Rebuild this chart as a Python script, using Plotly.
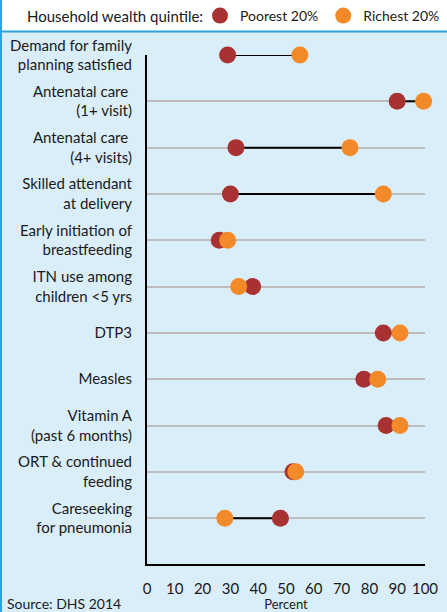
import plotly.graph_objects as go

categories = [
    "Demand for family<br>planning satisfied",
    "Antenatal care <br>(1+ visit)",
    "Antenatal care <br>(4+ visits)",
    "Skilled attendant<br>at delivery",
    "Early initiation of<br>breastfeeding",
    "ITN use among<br>children <5 yrs",
    "DTP3",
    "Measles",
    "Vitamin A<br>(past 6 months)",
    "ORT & continued<br>feeding",
    "Careseeking<br>for pneumonia",
]
poorest = [29, 90, 32, 30, 26, 38, 85, 78, 86, 52.5, 48]
richest = [55, 99.5, 73, 85, 29, 33, 91, 83, 91, 53.5, 28]
xticks = [0, 10, 20, 30, 40, 50, 60, 70, 80, 90, 100]

C_POOR = "#a83232"
C_RICH = "#f28a2a"
BG = "#d9eef9"
BLUE = "#2ea3de"
FONT = "Lato, Open Sans, sans-serif"

idx = list(range(len(categories)))

lx, ly = [], []
for i, (p, r) in enumerate(zip(poorest, richest)):
    lx += [p, r, None]
    ly += [i, i, None]

fig = go.Figure()
fig.add_trace(go.Scatter(x=lx, y=ly, mode="lines", line=dict(color="black", width=2),
                         showlegend=False, hoverinfo="skip", cliponaxis=False))
fig.add_trace(go.Scatter(x=poorest, y=idx, mode="markers", name="Poorest 20%",
                         marker=dict(color=C_POOR, size=17), cliponaxis=False))
fig.add_trace(go.Scatter(x=richest, y=idx, mode="markers", name="Richest 20%",
                         marker=dict(color=C_RICH, size=17), cliponaxis=False))

W, H = 447, 612
L, R, T, B = 147, 22, 55, 48
pw, ph = W - L - R, H - T - B

def px_x(p):
    return (p - L) / pw

def px_y(p):
    return (H - B - p) / ph

fig.update_layout(
    width=W, height=H,
    margin=dict(l=L, r=R, t=T, b=B, autoexpand=False),
    paper_bgcolor=BG, plot_bgcolor=BG,
    font=dict(family=FONT, size=15, color="#1a1a1a"),
    showlegend=True,
    legend=dict(orientation="h", x=px_x(200), y=px_y(16), xanchor="left", yanchor="middle",
                bgcolor="rgba(0,0,0,0)", font=dict(size=14),
                itemsizing="trace", tracegroupgap=0, itemwidth=30),
    xaxis=dict(range=[0, 100], tickvals=xticks, ticktext=[str(v) for v in xticks],
               showgrid=False, zeroline=False, showline=True, linecolor="black", linewidth=2,
               ticks="", ticklabelstandoff=10, tickfont=dict(size=15), automargin=False,
               title=dict(text="Percent", font=dict(size=13), standoff=2)),
    yaxis=dict(range=[10.99, 0], tickvals=idx, ticktext=categories,
               showgrid=True, gridcolor="#bdbdbd", gridwidth=2, zeroline=False,
               showline=True, linecolor="black", linewidth=2, automargin=False,
               ticks="", ticklabelstandoff=10, tickfont=dict(size=15)),
    shapes=[
        dict(type="rect", xref="paper", yref="paper", x0=px_x(0), x1=px_x(W), y0=px_y(32), y1=px_y(0),
             fillcolor="white", line=dict(width=0), layer="below"),
        dict(type="line", xref="paper", yref="paper", x0=px_x(0), x1=px_x(W), y0=px_y(31.5), y1=px_y(31.5),
             line=dict(color=BLUE, width=2)),
        dict(type="line", xref="paper", yref="paper", x0=px_x(1), x1=px_x(1), y0=px_y(H), y1=px_y(0),
             line=dict(color=BLUE, width=2)),
    ],
    annotations=[
        dict(text="Household wealth quintile:", xref="paper", yref="paper", x=px_x(205), y=px_y(16),
             xanchor="right", yanchor="middle", showarrow=False, font=dict(size=15)),
        dict(text="Source: DHS 2014", xref="paper", yref="paper", x=px_x(5), y=px_y(603),
             xanchor="left", yanchor="middle", showarrow=False, font=dict(size=14)),
    ],
)

fig.write_html("out.html", config={"displayModeBar": False},
               post_script="document.body.style.margin='0';")
